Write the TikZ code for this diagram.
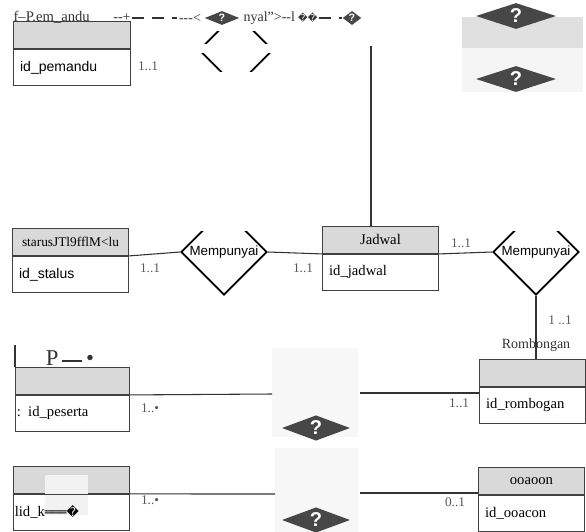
\documentclass[tikz,border=0pt]{standalone}
\usepackage{fontspec}
\setmainfont{Liberation Serif}
\setsansfont{Liberation Sans}
\newfontfamily\dejavu{DejaVu Sans}
\usetikzlibrary{shapes.geometric,positioning}

\begin{document}
\begin{tikzpicture}[x=.75pt,y=-.75pt,
  ent/.style={draw=black!75,line width=.7pt,anchor=north west,inner xsep=5pt,
    inner ysep=2pt,font=\fontsize{11}{13}\selectfont},
  head/.style={ent,fill=black!15,minimum height=20.25pt,text width=#1,align=center},
  body/.style={ent,minimum height=27pt,text width=#1,align=left},
  rel/.style={diamond,draw,line width=1.3pt,minimum width=64.5pt,
    minimum height=64.5pt,inner sep=0pt},
  reltxt/.style={font=\sffamily\fontsize{10}{12}\selectfont,inner sep=0pt},
  card/.style={text=black!65,font=\fontsize{10}{12}\selectfont,inner sep=1pt},
  tline/.style={text=black!80,font=\fontsize{10.5}{12}\selectfont,inner sep=1pt},
  link/.style={draw=black!80,line width=.8pt},
  patch/.style={fill=white},
  qmark/.style={text=white,font=\sffamily\bfseries\fontsize{15}{15}\selectfont,inner sep=0pt},
  qicon/.style={diamond,fill=black!72,inner sep=0pt,label={[qmark]center:?}},
  qsmall/.style={diamond,fill=black!72,inner sep=0pt,
    label={[qmark,font=\sffamily\bfseries\fontsize{8}{8}\selectfont]center:?}}]
\useasboundingbox (0,0) rectangle (586,532);

% relationships, partly hidden
\node[rel,minimum width=55.5pt,minimum height=55.5pt] (mp0) at (236,50) {};
\node[rel] (mp1) at (224,252) {};
\node[rel] (mp2) at (536,252) {};
\fill[patch] (188,0) rectangle (286,31);
\fill[patch] (188,44) rectangle (290,53);
\fill[patch] (188,72) rectangle (286,95);
\fill[patch] (176,200) rectangle (274,231);
\fill[patch] (488,200) rectangle (586,231);
\node[reltxt] (mp1t) at (mp1) {Mempunyai};
\node[reltxt] (mp2t) at (mp2) {Mempunyai};

% broken pictures
\fill[black!12] (462,17) rectangle (583,48);
\fill[black!4] (462,48) rectangle (583,92);
\fill[black!3] (272,348) rectangle (358,437);
\fill[black!3] (275,448) rectangle (358,532);
\node[qicon,minimum width=60pt,minimum height=19.5pt] (q1) at (516,16) {};
\node[qicon,minimum width=60pt,minimum height=19.5pt] (q2) at (516,79) {};
\node[qicon,minimum width=51pt,minimum height=19pt] (q3) at (316,428) {};
\node[qicon,minimum width=51pt,minimum height=19pt] (q4) at (316,520) {};

% entities
\node[head=77.75pt] (ehead) at (13,21) {};
\node[body=77.75pt] (ebody) at (ehead.south west) {\sffamily\fontsize{10.5}{12}\selectfont id\_pemandu};
\node[head=77pt,font=\fontsize{10}{12}\selectfont] (shead) at (12,228) {starusJTl9fflM<lu};
\node[body=77pt] (sbody) at (shead.south west) {\sffamily\fontsize{10.5}{12}\selectfont id\_stalus};
\node[head=77pt] (jhead) at (322,226) {Jadwal};
\node[body=77pt] (jbody) at (jhead.south west) {id\_jadwal};
\node[head=75.5pt] (phead) at (15,367) {};
\node[body=75.5pt,inner xsep=1pt,text width=83.5pt] (pbody) at (phead.south west) {: id\_peserta};
\node[head=77pt] (khead) at (13,466) {};
\fill[black!5] (45,475) rectangle (88,515);
\node[body=77pt,inner xsep=1pt,text width=85pt] (kbody) at (khead.south west) {lid\_k{\dejavu\fontsize{9}{11}\selectfont ═══�}};
\node[head=69.5pt] (rhead) at (479,359) {};
\node[body=69.5pt] (rbody) at (rhead.south west) {id\_rombogan};
\node[head=69.5pt] (ohead) at (478,467) {ooaoon};
\node[body=69.5pt] (obody) at (ohead.south west) {id\_ooacon};

% garbled titles
\node[tline,anchor=west,font=\fontsize{11}{12}\selectfont] (ttl) at (12,17) {f--P.em\_andu};
\node[tline] (tplus) at (122,18) {-{}-+};
\node[tline] (tlt) at (190,18) {-{}-{}-<};
\node[qsmall,minimum width=26pt,minimum height=10.5pt] (q0) at (222,18) {};
\node[tline,anchor=west] (tnyal) at (242,18) {nyal">-{}-l};
\node[tline,anchor=west] (trep) at (tnyal.east) {\dejavu\fontsize{7}{8}\selectfont ��};
\node[qsmall,minimum width=14pt,minimum height=10.5pt] (q9) at (352,18) {};
\draw[link,dash pattern=on 9pt off 6pt] (tplus.east) -- (tlt.west);
\draw[link,dash pattern=on 9pt off 6pt] (trep.east) -- (q9.west);
\node[tline,font=\fontsize{17}{17}\selectfont] (ptl) at (70,358)
  {P\,\rule[.3ex]{15pt}{2pt}\,•};
\node[tline] (rname) at (536,345) {Rombongan};

% connectors
\coordinate (jtop) at (371,46);
\coordinate (pl) at (272,394);
\coordinate (pr) at (360,393);
\coordinate (kl) at (275,494);
\coordinate (kr) at (360,493);
\draw[link] (jtop) -- (jtop |- jhead.north);
\draw[link] (shead.south east) -- (mp1.west);
\draw[link] (mp1.east) -- (jhead.south west);
\draw[link] (jhead.south east) -- (mp2.west);
\draw[link] (mp2.south) -- (mp2.south |- rhead.north);
\draw[link] (phead.south east) -- (pl);
\draw[link] (pr) -- (pr -| rbody.west);
\draw[link] (khead.south east) -- (kl);
\draw[link] (kr) -- (kr -| obody.west);
\draw[link] (phead.north west) -- ++(0,-22);

% cardinalities
\node[card] (c1) at (148,66) {1..1};
\node[card] (c2) at (150,268) {1..1};
\node[card] (c3) at (303,268) {1..1};
\node[card] (c4) at (461,243) {1..1};
\node[card] (c5) at (560,320) {1 ..1};
\node[card] (c6) at (459,403) {1..1};
\node[card] (c7) at (150,408) {1..•};
\node[card] (c8) at (150,500) {1..•};
\node[card] (c9) at (455,502) {0..1};
\end{tikzpicture}
\end{document}
